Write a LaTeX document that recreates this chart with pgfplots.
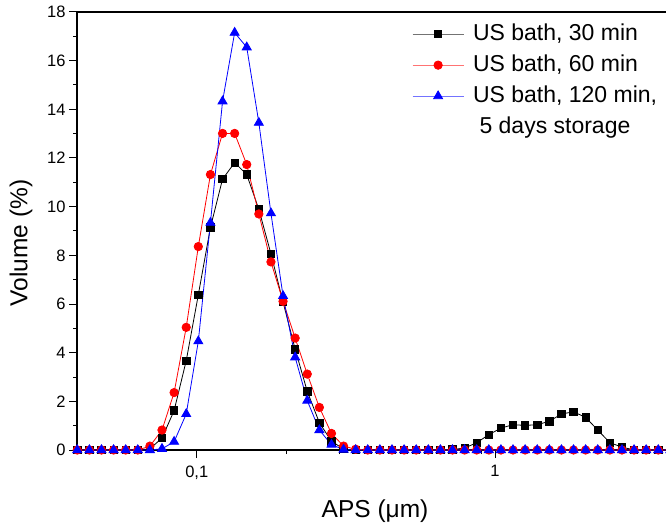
\documentclass[border=0pt]{standalone}
\usepackage{fontspec}
\setmainfont{Liberation Sans}
\usepackage{pgfplots}
\pgfplotsset{compat=1.18}
\usepackage{pgfplotstable}

\pgfplotstableread{
x        a      b      c
0.03978  0      0      0
0.04368  0      0      0
0.04795  0      0      0
0.05265  0      0      0
0.05780  0      0      0
0.06346  0      0      0
0.06968  0.05   0.16   0
0.07650  0.49   0.82   0.05
0.08399  1.62   2.36   0.34
0.09222  3.67   5.04   1.48
0.10125  6.38   8.36   4.47
0.11117  9.15   11.32  9.34
0.12206  11.13  13.01  14.33
0.13401  11.81  13.01  17.15
0.14713  11.32  11.73  16.55
0.16154  9.89   9.70   13.45
0.17736  8.06   7.73   9.73
0.19473  6.08   6.11   6.33
0.21380  4.14   4.60   3.81
0.23474  2.41   3.12   2.03
0.25773  1.12   1.75   0.82
0.28297  0.36   0.68   0.22
0.31068  0.04   0.16   0.02
0.34110  0      0.03   0
0.37451  0      0      0
0.41118  0      0      0
0.45145  0      0      0
0.49566  0      0      0
0.54420  0      0      0
0.59750  0      0      0
0.65601  0      0      0
0.72026  0.02   0      0
0.79079  0.08   0      0
0.86824  0.30   0      0
0.95327  0.63   0      0
1.04662  0.90   0      0
1.14912  1.04   0      0
1.26166  1.01   0      0
1.38522  1.04   0      0
1.52087  1.18   0      0
1.66981  1.48   0      0
1.83334  1.57   0      0
2.01288  1.34   0      0
2.21001  0.82   0      0
2.42644  0.30   0      0
2.66407  0.12   0      0
2.92496  0      0      0
3.21141  0      0      0
3.52590  0      0      0
3.87120  0      0      0
}\datatable

\begin{document}
\begin{tikzpicture}
\begin{axis}[
  at={(0,0)}, anchor=south west,
  scale only axis, width=589bp, height=438bp,
  xmode=log, xmin=0.03969, xmax=3.743,
  ymin=0, ymax=18,
  clip=false,
  axis x line=box, axis y line=left,
  axis line style={-, line width=1.3bp, black},
  xtick pos=left,
  tick align=outside,
  major tick length=8bp, minor tick length=4bp,
  every tick/.style={black, line width=1bp},
  xtick={0.1,1}, xticklabels={{0,1},{1}},
  ytick={0,2,...,18}, minor y tick num=1,
  /pgf/number format/assume math mode=true,
  tick label style={font=\fontsize{16.5bp}{19bp}\selectfont},
  xticklabel style={yshift=-4bp},
  xlabel={APS (μm)}, ylabel={Volume (\%)},
  label style={font=\fontsize{24.5bp}{28bp}\selectfont},
  xlabel style={at={(axis description cs:0.506,-0.139)}, anchor=center},
  ylabel style={at={(axis description cs:-0.0951,0.4726)}, anchor=center},
  legend style={draw=none, fill=none, at={(axis description cs:0.5688,0.975)}, anchor=north west,
    font=\fontsize{23bp}{28bp}\selectfont, inner sep=0pt, row sep=9bp,
    nodes={inner sep=0pt, text height=17bp, text depth=5bp},
    /tikz/every odd column/.style={column sep=9bp}},
  legend cell align=left,
  legend image code/.code={
    \draw[#1, draw opacity=0.55, mark=none] (0bp,0bp) -- (51bp,0bp);
    \draw[#1] plot coordinates {(25.5bp,0bp)};
  },
]
\addplot[black, line width=0.8bp, mark=square*, mark size=3.7bp, mark options={solid}]
  table[x=x, y=a]{\datatable};
\addlegendentry{US bath, 30 min}
\addplot[red, line width=0.8bp, mark=*, mark size=4.2bp, mark options={solid}]
  table[x=x, y=b]{\datatable};
\addlegendentry{US bath, 60 min}
\addplot[blue, line width=0.8bp, mark=triangle*, mark size=5.2bp, mark options={solid}]
  table[x=x, y=c]{\datatable};
\addlegendentry{US bath, 120 min,}
\addlegendimage{empty legend}
\addlegendentry{\hspace*{6.5bp}5 days storage}
\end{axis}
\pgfresetboundingbox
\useasboundingbox (-77bp,-75bp) rectangle (589bp,450bp);
\end{tikzpicture}
\end{document}
